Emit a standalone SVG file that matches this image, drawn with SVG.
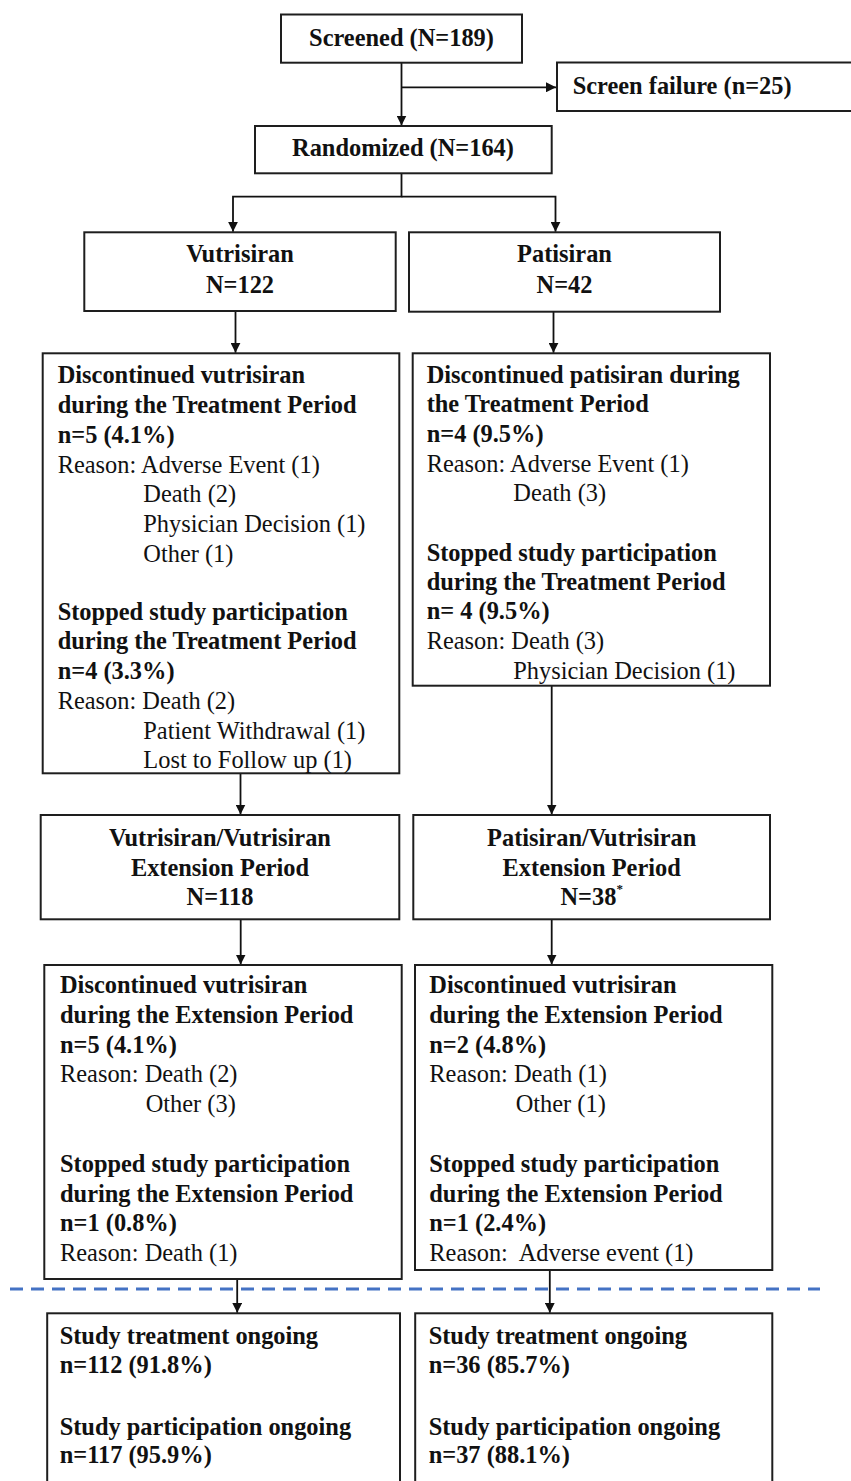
<svg xmlns="http://www.w3.org/2000/svg" width="851" height="1481" viewBox="0 0 851 1481">
<style>
.box{fill:#fff;stroke:#1e1e1e;stroke-width:2}
.t{font-family:"Liberation Serif","Times New Roman",serif;font-size:24.4px;fill:#111;white-space:pre}
.b{font-weight:bold}
.c{text-anchor:middle}
.conn{stroke:#111;stroke-width:1.8;fill:none}
.dash{stroke:#4472C4;stroke-width:3;stroke-dasharray:13 8;fill:none}
</style>
<defs>
<marker id="ah" markerUnits="userSpaceOnUse" markerWidth="10" markerHeight="10" refX="10" refY="5" orient="auto">
<path d="M0,0 L10,5 L0,10 z" fill="#111"/>
</marker>
</defs>
<rect width="851" height="1481" fill="#fff"/>

<g id="connectors">
<path class="conn" d="M401.5,62.7 V125.5" marker-end="url(#ah)"/>
<path class="conn" d="M401.5,87.3 H556" marker-end="url(#ah)"/>
<path class="conn" d="M401.5,173.3 V196.7 H233 V231.8" marker-end="url(#ah)"/>
<path class="conn" d="M401.5,196.7 H555.5 V231.8" marker-end="url(#ah)"/>
<path class="conn" d="M235.5,311 V352.8" marker-end="url(#ah)"/>
<path class="conn" d="M553.5,311.7 V352.8" marker-end="url(#ah)"/>
<path class="conn" d="M240.5,773.3 V814.5" marker-end="url(#ah)"/>
<path class="conn" d="M551.7,685.7 V814.5" marker-end="url(#ah)"/>
<path class="conn" d="M240.7,919.3 V964.5" marker-end="url(#ah)"/>
<path class="conn" d="M551.7,919.3 V964.5" marker-end="url(#ah)"/>
<path class="conn" d="M237.2,1279 V1312.8" marker-end="url(#ah)"/>
<path class="conn" d="M549.8,1270 V1312.8" marker-end="url(#ah)"/>
<path class="dash" d="M10,1289 H820"/>
</g>

<g id="screened">
<rect class="box" x="281" y="14.5" width="241" height="48.2"/>
<text class="t b c" x="401.5" y="46">Screened (N=189)</text>
</g>

<g id="screen-failure">
<rect class="box" x="557" y="62.5" width="300" height="48.5"/>
<text class="t b" x="572.7" y="94">Screen failure (n=25)</text>
</g>

<g id="randomized">
<rect class="box" x="255" y="126" width="296.7" height="47.3"/>
<text class="t b c" x="403" y="156">Randomized (N=164)</text>
</g>

<g id="vutrisiran">
<rect class="box" x="84.3" y="232.3" width="311.4" height="78.7"/>
<text class="t b c" x="240" y="262">Vutrisiran</text>
<text class="t b c" x="240" y="292.5">N=122</text>
</g>

<g id="patisiran">
<rect class="box" x="409" y="232.3" width="311" height="79.4"/>
<text class="t b c" x="564.5" y="262">Patisiran</text>
<text class="t b c" x="564.5" y="292.5">N=42</text>
</g>

<g id="vutrisiran-treatment-discontinued">
<rect class="box" x="42.7" y="353.3" width="356.6" height="420"/>
<text class="t b" x="57.7" y="383.3">Discontinued vutrisiran</text>
<text class="t b" x="57.7" y="413.3">during the Treatment Period</text>
<text class="t b" x="57.7" y="443.3">n=5 (4.1%)</text>
<text class="t" x="57.7" y="472.7">Reason: Adverse Event (1)</text>
<text class="t" x="143.3" y="502.3">Death (2)</text>
<text class="t" x="143.3" y="531.7">Physician Decision (1)</text>
<text class="t" x="143.3" y="561.7">Other (1)</text>
<text class="t b" x="57.7" y="620">Stopped study participation</text>
<text class="t b" x="57.7" y="649.3">during the Treatment Period</text>
<text class="t b" x="57.7" y="679.3">n=4 (3.3%)</text>
<text class="t" x="57.7" y="709.3">Reason: Death (2)</text>
<text class="t" x="143.3" y="739">Patient Withdrawal (1)</text>
<text class="t" x="143.3" y="768.3">Lost to Follow up (1)</text>
</g>

<g id="patisiran-treatment-discontinued">
<rect class="box" x="412.7" y="353.3" width="357.3" height="332.4"/>
<text class="t b" x="426.7" y="383.3">Discontinued patisiran during</text>
<text class="t b" x="426.7" y="412.3">the Treatment Period</text>
<text class="t b" x="426.7" y="442.3">n=4 (9.5%)</text>
<text class="t" x="426.7" y="472">Reason: Adverse Event (1)</text>
<text class="t" x="513.3" y="501.3">Death (3)</text>
<text class="t b" x="426.7" y="560.5">Stopped study participation</text>
<text class="t b" x="426.7" y="590">during the Treatment Period</text>
<text class="t b" x="426.7" y="619">n= 4 (9.5%)</text>
<text class="t" x="426.7" y="649">Reason: Death (3)</text>
<text class="t" x="513.3" y="679">Physician Decision (1)</text>
</g>

<g id="vutrisiran-extension">
<rect class="box" x="40.7" y="815" width="358.6" height="104.3"/>
<text class="t b c" x="220" y="846">Vutrisiran/Vutrisiran</text>
<text class="t b c" x="220" y="876">Extension Period</text>
<text class="t b c" x="220" y="905">N=118</text>
</g>

<g id="patisiran-extension">
<rect class="box" x="413.3" y="815" width="356.7" height="104.3"/>
<text class="t b c" x="591.7" y="846">Patisiran/Vutrisiran</text>
<text class="t b c" x="591.7" y="876">Extension Period</text>
<text class="t b c" x="591.7" y="905">N=38<tspan font-size="13" dy="-12">*</tspan></text>
</g>

<g id="vutrisiran-extension-discontinued">
<rect class="box" x="44.3" y="965" width="357.4" height="314"/>
<text class="t b" x="60" y="993.3">Discontinued vutrisiran</text>
<text class="t b" x="60" y="1023.3">during the Extension Period</text>
<text class="t b" x="60" y="1053.3">n=5 (4.1%)</text>
<text class="t" x="60" y="1082">Reason: Death (2)</text>
<text class="t" x="145.7" y="1112">Other (3)</text>
<text class="t b" x="60" y="1172">Stopped study participation</text>
<text class="t b" x="60" y="1202">during the Extension Period</text>
<text class="t b" x="60" y="1231">n=1 (0.8%)</text>
<text class="t" x="60" y="1261">Reason: Death (1)</text>
</g>

<g id="patisiran-extension-discontinued">
<rect class="box" x="415" y="965" width="357.3" height="305"/>
<text class="t b" x="429.3" y="993.3">Discontinued vutrisiran</text>
<text class="t b" x="429.3" y="1023.3">during the Extension Period</text>
<text class="t b" x="429.3" y="1053.3">n=2 (4.8%)</text>
<text class="t" x="429.3" y="1082">Reason: Death (1)</text>
<text class="t" x="515.7" y="1112">Other (1)</text>
<text class="t b" x="429.3" y="1172">Stopped study participation</text>
<text class="t b" x="429.3" y="1202">during the Extension Period</text>
<text class="t b" x="429.3" y="1231">n=1 (2.4%)</text>
<text class="t" x="429.3" y="1261">Reason:  Adverse event (1)</text>
</g>

<g id="vutrisiran-ongoing">
<rect class="box" x="47.2" y="1313.3" width="352.8" height="200"/>
<text class="t b" x="59.7" y="1344">Study treatment ongoing</text>
<text class="t b" x="59.7" y="1373.3">n=112 (91.8%)</text>
<text class="t b" x="59.7" y="1435">Study participation ongoing</text>
<text class="t b" x="59.7" y="1463.3">n=117 (95.9%)</text>
</g>

<g id="patisiran-ongoing">
<rect class="box" x="415.2" y="1313.3" width="357.1" height="200"/>
<text class="t b" x="428.7" y="1344">Study treatment ongoing</text>
<text class="t b" x="428.7" y="1373.3">n=36 (85.7%)</text>
<text class="t b" x="428.7" y="1435">Study participation ongoing</text>
<text class="t b" x="428.7" y="1463.3">n=37 (88.1%)</text>
</g>
</svg>
